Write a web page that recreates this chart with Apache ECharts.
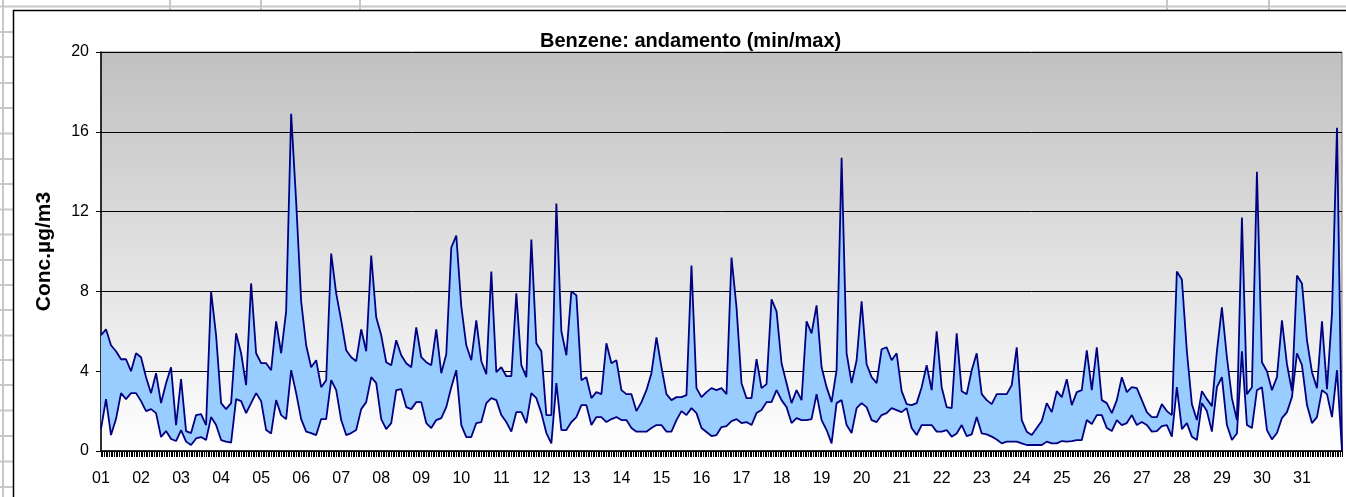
<!DOCTYPE html>
<html lang="it">
<head>
<meta charset="UTF-8">
<title>Benzene: andamento (min/max)</title>
<script src="https://cdn.jsdelivr.net/npm/echarts@6/dist/echarts.min.js"></script>
<style>
    * { margin: 0; padding: 0; box-sizing: border-box; }
    html, body { width: 1346px; height: 497px; background: #fff; overflow: hidden; }
    #chart { width: 1346px; height: 497px; }
</style>
</head>
<body>
<div id="chart"></div>
<script>
// one reading every 3 hours, 8 per day, plus the closing point at hour 744
const STEP = 3;
const days = ['01', '02', '03', '04', '05', '06', '07', '08', '09', '10', '11', '12', '13', '14', '15', '16',
    '17', '18', '19', '20', '21', '22', '23', '24', '25', '26', '27', '28', '29', '30', '31'];

const maxVals = [
    5.8, 6.1, 5.3, 5.0, 4.6, 4.6, 4.0, 4.9,
    4.7, 3.7, 2.9, 3.9, 2.4, 3.4, 4.2, 1.3,
    3.6, 1.0, 0.9, 1.8, 1.85, 1.3, 8.0, 5.8,
    2.4, 2.1, 2.4, 5.9, 4.9, 3.3, 8.4, 4.9,
    4.4, 4.4, 4.05, 6.5, 4.9, 7.0, 16.9, 12.5,
    7.5, 5.3, 4.2, 4.55, 3.2, 3.55, 9.9, 7.9,
    6.55, 5.05, 4.7, 4.5, 6.1, 5.0, 9.8, 6.7,
    5.8, 4.45, 4.3, 5.55, 4.8, 4.4, 4.2, 6.2,
    4.7, 4.45, 4.3, 6.1, 3.9, 4.85, 10.2, 10.8,
    7.25, 5.3, 4.55, 6.55, 4.5, 3.85, 9.0, 3.95,
    4.2, 3.75, 3.75, 7.9, 4.3, 3.7, 10.6, 5.4,
    5.0, 1.8, 1.8, 12.4, 6.0, 4.8, 8.0, 7.8,
    3.55, 3.7, 2.65, 2.95, 2.85, 5.4, 4.4, 4.55,
    3.05, 2.85, 2.85, 2.0, 2.45, 3.05, 3.9, 5.7,
    4.2, 2.85, 2.55, 2.7, 2.7, 2.8, 9.3, 3.15,
    2.7, 2.95, 3.15, 3.05, 3.15, 2.85, 9.7, 7.2,
    3.4, 2.65, 2.65, 4.6, 3.15, 3.35, 7.6, 7.0,
    4.4, 3.4, 2.4, 3.05, 2.55, 6.5, 5.9, 7.3,
    4.2, 3.2, 2.45, 4.05, 14.7, 4.9, 3.4, 4.55,
    7.5, 4.35, 3.7, 3.4, 5.1, 5.2, 4.55, 4.9,
    3.0, 2.35, 2.3, 2.4, 3.2, 4.3, 3.05, 6.0,
    3.2, 2.2, 2.15, 5.9, 3.0, 2.85, 4.05, 4.9,
    2.85, 2.55, 2.35, 2.85, 2.85, 2.85, 3.3, 5.2,
    1.55, 0.97, 0.8, 1.15, 1.5, 2.4, 1.95, 3.0,
    2.7, 3.6, 2.3, 2.95, 3.05, 5.05, 3.05, 5.2,
    2.55, 2.4, 1.9, 2.55, 3.7, 2.95, 3.2, 3.15,
    2.55, 1.95, 1.7, 1.7, 2.35, 2.0, 1.8, 9.0,
    8.6, 5.0, 2.35, 1.55, 3.0, 2.6, 2.25, 5.0,
    7.2, 4.7, 2.65, 1.55, 11.7, 2.85, 3.2, 14.0,
    4.45, 4.0, 3.05, 3.7, 6.55, 4.35, 3.0, 8.8,
    8.4, 5.55, 3.95, 3.15, 6.5, 3.1, 6.9, 16.2,
    0
];

const minVals = [
    1.1, 2.6, 0.8, 1.6, 2.9, 2.6, 2.9, 2.9,
    2.5, 2.0, 2.1, 1.9, 0.7, 1.0, 0.6, 0.5,
    1.05, 0.47, 0.3, 0.63, 0.7, 0.55, 1.7, 1.3,
    0.55, 0.47, 0.42, 2.6, 2.5, 1.9, 2.4, 2.9,
    2.5, 1.05, 0.88, 2.55, 1.8, 1.6, 4.05, 2.9,
    1.6, 0.97, 0.9, 0.8, 1.6, 1.6, 3.55, 3.05,
    1.55, 0.8, 0.9, 1.05, 2.1, 2.45, 3.7, 3.4,
    1.6, 1.1, 1.4, 3.05, 3.1, 2.2, 2.1, 2.45,
    2.45, 1.4, 1.15, 1.55, 1.65, 2.2, 3.2, 4.05,
    1.3, 0.7, 0.7, 1.4, 1.45, 2.4, 2.65, 2.55,
    1.8, 1.45, 0.97, 1.95, 1.95, 1.4, 2.9, 2.65,
    1.9, 0.9, 0.38, 3.4, 1.05, 1.05, 1.45, 1.7,
    2.3, 2.3, 1.3, 1.7, 1.7, 1.45, 1.6, 1.7,
    1.55, 1.55, 1.15, 0.97, 0.97, 0.97, 1.15, 1.3,
    1.3, 0.97, 0.97, 1.55, 2.0, 1.8, 2.15, 1.9,
    1.15, 0.95, 0.75, 0.8, 1.2, 1.25, 1.5, 1.6,
    1.4, 1.45, 1.3, 1.9, 2.05, 2.45, 2.45, 3.05,
    2.55, 2.2, 1.4, 1.65, 1.55, 1.55, 1.6, 2.85,
    1.55, 1.05, 0.38, 2.4, 2.55, 1.3, 0.9, 2.15,
    2.4, 2.2, 1.55, 1.45, 1.8, 1.9, 2.15, 2.05,
    1.95, 2.15, 1.15, 0.8, 1.3, 1.3, 1.3, 0.97,
    0.97, 1.05, 0.72, 0.88, 1.3, 0.75, 0.83, 1.7,
    0.88, 0.83, 0.72, 0.58, 0.38, 0.47, 0.47, 0.47,
    0.38, 0.3, 0.3, 0.3, 0.3, 0.47, 0.38, 0.38,
    0.5, 0.47, 0.5, 0.55, 0.55, 1.55, 1.35, 1.8,
    1.8, 1.15, 1.0, 1.55, 1.3, 1.4, 1.8, 1.3,
    1.45, 1.3, 0.97, 1.0, 1.25, 1.3, 0.72, 3.2,
    1.1, 1.4, 0.72, 0.55, 2.4, 2.0, 0.97, 3.2,
    3.7, 1.3, 0.55, 0.88, 5.0, 1.3, 1.15, 3.05,
    3.2, 1.05, 0.58, 0.9, 1.65, 1.95, 2.7, 4.9,
    4.3, 2.3, 1.4, 1.7, 3.05, 2.85, 1.7, 4.05,
    0
];

const yTicks = [0, 4, 8, 12, 16, 20];

const hours = minVals.map((v, i) => i * STEP);
const lowLine = hours.map((h, i) => [h, minVals[i]]);
const highLine = hours.map((h, i) => [h, maxVals[i]]);

// the spreadsheet cells that show around the chart object
const rowLines = [6.5, 32, 57, 83, 108, 133.5, 159, 184, 209.5, 234.5, 260, 285, 310, 335.5, 360, 385, 410.5, 436, 461.5, 487];
const colLines = [3, 170, 261, 360, 1167, 1269];
const cellColor = '#c8c8c8';

const graphics = [];
rowLines.forEach(y => graphics.push({
    type: 'line', silent: true, z: -1,
    shape: { x1: 0, y1: y, x2: y < 10 ? 1346 : 13, y2: y },
    style: { stroke: cellColor, lineWidth: 2 }
}));
colLines.forEach(x => graphics.push({
    type: 'line', silent: true, z: -1,
    shape: { x1: x, y1: 0, x2: x, y2: x < 13 ? 497 : 10 },
    style: { stroke: cellColor, lineWidth: 2 }
}));
// chart object border
graphics.push({
    type: 'rect', silent: true, z: -1,
    shape: { x: 13.5, y: 10.5, width: 1400, height: 600 },
    style: { fill: '#fff', stroke: '#000', lineWidth: 1.5 }
});

// fill between the min and the max line, as one polygon
function renderBand(params, api) {
    const top = highLine.map(p => api.coord(p));
    const bottom = lowLine.map(p => api.coord(p)).reverse();
    return {
        type: 'polygon',
        shape: { points: top.concat(bottom) },
        style: { fill: '#99ccff', stroke: null }
    };
}

const font = "'Liberation Sans', Arial, sans-serif";
const chart = echarts.init(document.getElementById('chart'));

chart.setOption({
    animation: false,
    backgroundColor: '#fff',
    title: {
        text: 'Benzene: andamento (min/max)',
        left: 535,
        top: 26,
        textStyle: { fontFamily: font, fontSize: 20, fontWeight: 'bold', color: '#000' }
    },
    graphic: graphics,
    grid: {
        left: 101, right: 4, top: 52, bottom: 46,
        show: true,
        borderColor: '#808080',
        borderWidth: 1,
        backgroundColor: {
            type: 'linear', x: 0, y: 0, x2: 0, y2: 1,
            colorStops: [{ offset: 0, color: '#c0c0c0' }, { offset: 1, color: '#ffffff' }]
        }
    },
    xAxis: {
        type: 'value',
        min: 0,
        max: 744,
        interval: 24,
        axisLine: { lineStyle: { color: '#000', width: 1.5 } },
        axisTick: { show: true, length: 6, lineStyle: { color: '#000' } },
        minorTick: { show: true, splitNumber: 24, length: 6, lineStyle: { color: '#000' } },
        splitLine: { show: false },
        axisLabel: {
            showMaxLabel: false,
            margin: 20,
            fontFamily: font,
            fontSize: 16,
            color: '#000',
            formatter: v => days[v / 24] || ''
        }
    },
    yAxis: {
        type: 'value',
        min: yTicks[0],
        max: yTicks[yTicks.length - 1],
        interval: 4,
        name: 'Conc.µg/m3',
        nameLocation: 'middle',
        nameRotate: 90,
        nameGap: 46,
        nameTextStyle: { fontFamily: font, fontSize: 21, fontWeight: 'bold', color: '#000' },
        axisLine: { show: true, lineStyle: { color: '#000', width: 1.5 } },
        axisTick: { show: true, length: 5, lineStyle: { color: '#000' } },
        splitLine: { lineStyle: { color: '#000', width: 1 } },
        axisLabel: { margin: 12, fontFamily: font, fontSize: 16, color: '#000' }
    },
    series: [
        {
            name: 'band',
            type: 'custom',
            renderItem: renderBand,
            data: [[0, 0]],
            clip: true,
            silent: true,
            z: 1
        },
        {
            name: 'min',
            type: 'line',
            data: lowLine,
            symbol: 'none',
            z: 3,
            lineStyle: { color: '#000080', width: 1.8 }
        },
        {
            name: 'max',
            type: 'line',
            data: highLine,
            symbol: 'none',
            z: 3,
            lineStyle: { color: '#000080', width: 1.8 }
        }
    ]
});
</script>
</body>
</html>
